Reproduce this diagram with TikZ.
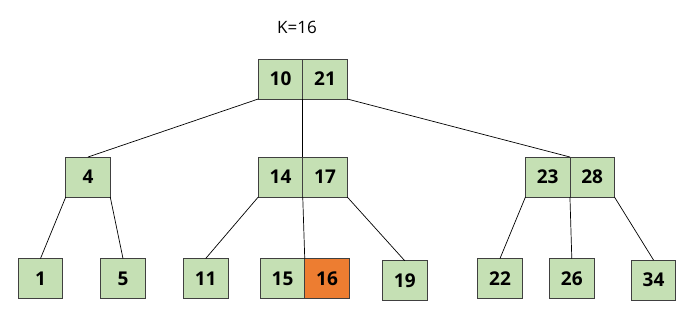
\documentclass[tikz,border=0pt]{standalone}
\usepackage{fontspec}
\setmainfont{Open Sans}
\definecolor{cellgreen}{HTML}{C5E0B4}
\definecolor{cellorange}{HTML}{ED7D31}
\definecolor{celledge}{HTML}{404040}
\begin{document}
\begin{tikzpicture}[x=1pt,y=-1pt,
  cell/.style={draw=celledge, fill=cellgreen, line width=0.8pt, minimum width=44.5pt, minimum height=40pt, inner sep=0pt, outer sep=0pt, font=\bfseries\fontsize{19}{21}\selectfont},
  hot/.style={cell, fill=cellorange},
  link/.style={draw=black, line width=0.7pt}]
\useasboundingbox (0,0) rectangle (697,317);
\node[font=\fontsize{17}{20}\selectfont] (k) at (297,27) {K=16};
% root
\node[cell] (r1) at (280.5,79) {10};
\node[cell] (r2) at (325,79) {21};
% level 2
\node[cell] (n4) at (88,177) {4};
\node[cell] (n14) at (280.5,177) {14};
\node[cell] (n17) at (325,177) {17};
\node[cell] (n23) at (547.7,177) {23};
\node[cell] (n28) at (592.2,177) {28};
% leaves
\node[cell] (n1) at (40.5,278.5) {1};
\node[cell] (n5) at (123,278.5) {5};
\node[cell] (n11) at (205.7,278.5) {11};
\node[cell] (n15) at (282.5,278.7) {15};
\node[hot] (n16) at (327,278.7) {16};
\node[cell] (n19) at (404.8,280.8) {19};
\node[cell] (n22) at (500,278.5) {22};
\node[cell] (n26) at (571.8,278.5) {26};
\node[cell] (n34) at (653.5,280) {34};
% connectors
\draw[link] (r1.south west) -- (n4.north);
\draw[link] (r1.south east) -- (n14.north east);
\draw[link] (r2.south east) -- (n23.north east);
\draw[link] (n4.south west) -- (n1.north);
\draw[link] (n4.south east) -- (n5.north);
\draw[link] (n14.south west) -- (n11.north);
\draw[link] (n14.south east) -- (n15.north east);
\draw[link] (n17.south east) -- (n19.north);
\draw[link] (n23.south west) -- (n22.north);
\draw[link] (n23.south east) -- (n26.north);
\draw[link] (n28.south east) -- (n34.north);
\end{tikzpicture}
\end{document}
